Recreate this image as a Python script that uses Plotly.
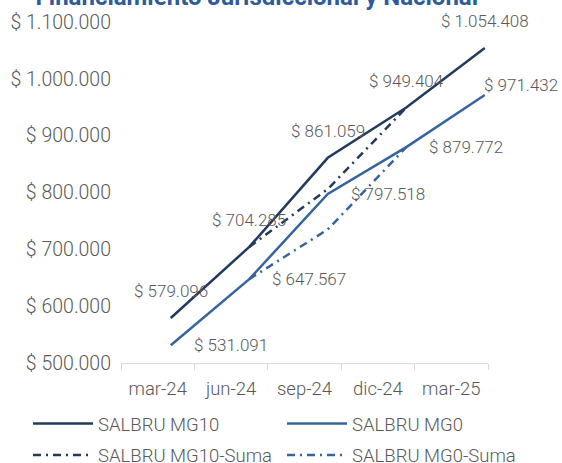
import plotly.graph_objects as go

# ---- data ----
categories = ["mar-24", "jun-24", "sep-24", "dic-24", "mar-25"]
mg10 = [579096, 704285, 861059, 949404, 1054408]
mg0 = [531091, 647567, 797518, 879772, 971432]
mg10_suma = [None, 704285, 806000, 949404, None]
mg0_suma = [None, 647567, 735000, 879772, None]
y_ticks = [500000, 600000, 700000, 800000, 900000, 1000000, 1100000]
title_text = "Financiamiento Jurisdiccional y Nacional"
series_names = ["SALBRU MG10", "SALBRU MG0", "SALBRU MG10-Suma", "SALBRU MG0-Suma"]


def fmt(v):
    return "$ " + f"{v:,.0f}".replace(",", ".")


DARK = "#213B5E"
BLUE = "#36649E"
GRAY = "#595959"
AXIS = "#D9D9D9"
FONT = "Roboto"
W = 300
DASHDOT = "8px,5px,2px,5px"

fig = go.Figure()

# invisible trace that defines the category axis (labels + boundary ticks)
fig.add_trace(go.Scatter(x=categories, y=mg0, mode="none", showlegend=False,
                         hoverinfo="skip", xaxis="x", yaxis="y"))

series = [
    (series_names[0], mg10, DARK, "solid", "legend"),
    (series_names[1], mg0, BLUE, "solid", "legend2"),
    (series_names[2], mg10_suma, DARK, DASHDOT, "legend3"),
    (series_names[3], mg0_suma, BLUE, DASHDOT, "legend4"),
]
for name, vals, color, dash, leg in series:
    fig.add_trace(go.Scatter(
        x=categories, y=vals, name=name, mode="lines",
        line=dict(color=color, width=2.5, dash=dash),
        xaxis="x2", yaxis="y", legend=leg, connectgaps=False,
    ))

lab_font = dict(family=FONT, size=17, color=GRAY, weight=W)
annotations = []
for c, v in zip(categories, mg10):
    annotations.append(dict(x=c, y=v, xref="x2", yref="y", text=fmt(v),
                            showarrow=False, xanchor="center", yanchor="middle",
                            yshift=27, font=lab_font))
for i, (c, v) in enumerate(zip(categories, mg0)):
    last = i == len(categories) - 1
    annotations.append(dict(x=c, y=v, xref="x2", yref="y", text=fmt(v),
                            showarrow=False, xanchor="left", yanchor="middle",
                            xshift=-3 if last else 21, yshift=10 if last else 0,
                            font=lab_font))

legend_common = dict(orientation="h", xanchor="left", yanchor="middle",
                     bgcolor="rgba(0,0,0,0)", itemwidth=60,
                     font=dict(family=FONT, size=18.5, color=GRAY, weight=W))

# legend boxes: text should start at 98 px and 352 px
LX1 = (98 - 70 - 121) / 367
LX2 = (352 - 70 - 121) / 367

fig.update_layout(
    width=562, height=463,
    margin=dict(l=121, r=74, t=22, b=100, autoexpand=False),
    paper_bgcolor="white", plot_bgcolor="white",
    font=dict(family=FONT, color=GRAY, weight=W),
    separators=",.",
    title=dict(text="<b>" + title_text + "</b>", x=0.457, xref="container",
               xanchor="center", y=0.99, yref="container", yanchor="bottom",
               font=dict(family=FONT, size=24, color="#2E5C9A", weight=700)),
    xaxis=dict(type="category", categoryorder="array", categoryarray=categories,
               range=[-0.5, 4.5], tickson="boundaries", ticks="outside",
               ticklen=6, tickcolor=AXIS, showline=True, linecolor=AXIS,
               linewidth=1.3, showgrid=False, zeroline=False, ticklabelstandoff=9,
               tickfont=dict(family=FONT, size=18.5, color=GRAY, weight=W)),
    xaxis2=dict(type="category", categoryorder="array", categoryarray=categories,
                overlaying="x", anchor="y", range=[-0.634, 4.041], visible=False),
    yaxis=dict(range=[500000, 1100000], tickvals=y_ticks,
               ticktext=[fmt(v) for v in y_ticks], showgrid=False,
               showline=False, zeroline=False, ticks="", ticklabelstandoff=9,
               tickfont=dict(family=FONT, size=19.5, color=GRAY, weight=W)),
    legend=dict(x=LX1, y=-0.1789, **legend_common),
    legend2=dict(x=LX2, y=-0.1789, **legend_common),
    legend3=dict(x=LX1, y=-0.2710, **legend_common),
    legend4=dict(x=LX2, y=-0.2710, **legend_common),
    annotations=annotations,
    showlegend=True,
)

fig.write_html("out.html",
               config={"displayModeBar": False},
               post_script="document.body.style.margin='0px';")
